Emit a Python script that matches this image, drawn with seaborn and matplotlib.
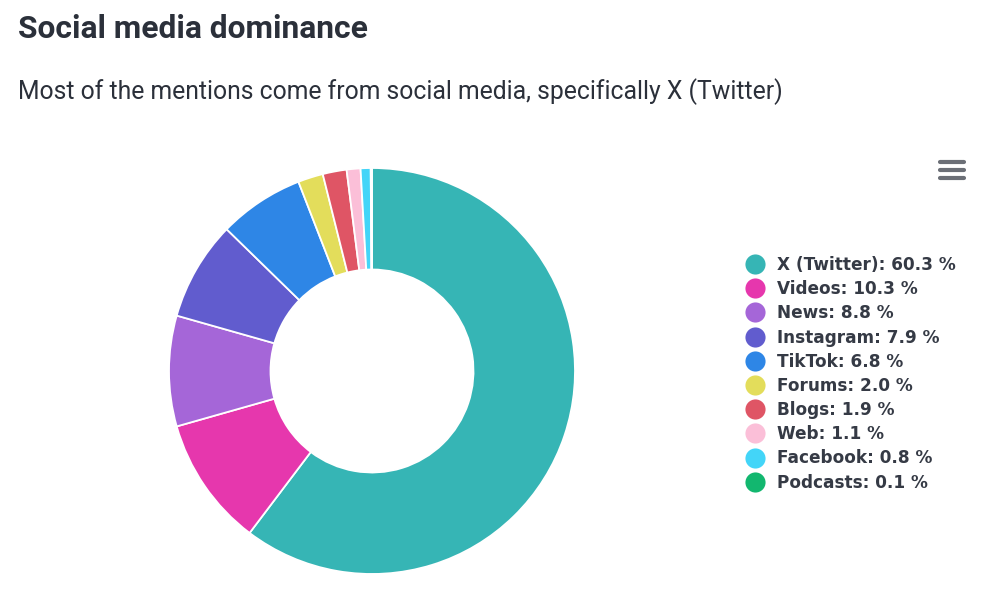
# -*- coding: utf-8 -*-
import seaborn as sns
import matplotlib.pyplot as plt
from matplotlib.lines import Line2D

categories = ['X (Twitter)', 'Videos', 'News', 'Instagram', 'TikTok',
              'Forums', 'Blogs', 'Web', 'Facebook', 'Podcasts']
values = [60.3, 10.3, 8.8, 7.9, 6.8, 2.0, 1.9, 1.1, 0.8, 0.1]
colors = ['#36b5b5', '#e637ad', '#a566d8', '#615cce', '#2e86e6',
          '#e3dd5b', '#df5565', '#fbbfd8', '#43d5f8', '#12b76f']

sns.set_theme(style='white')
plt.rcParams['font.family'] = ['Roboto', 'DejaVu Sans']
palette = sns.color_palette(colors)
text_color = '#2b303a'

W, H = 1000, 604
fig = plt.figure(figsize=(W / 100, H / 100), dpi=100)
fig.patch.set_facecolor('white')

# donut, centre about (372, 371), radius 203 px
ax = fig.add_axes([(372 - 203) / W, 1 - (371 + 203) / H, 406 / W, 406 / H])
wedges, _ = ax.pie(values, colors=palette, startangle=90, counterclock=False,
                   radius=1, wedgeprops=dict(width=0.5, edgecolor='white', linewidth=1.3))
ax.set_xlim(-1.0, 1.0)
ax.set_ylim(-1.0, 1.0)

fig.text(18 / W, 1 - 29 / H, 'Social media dominance', fontsize=22.85, fontweight='bold',
         color=text_color, va='center', ha='left')
fig.text(18 / W, 1 - 92 / H, 'Most of the mentions come from social media, specifically X (Twitter)',
         fontsize=17.8, color=text_color, va='center', ha='left')

# legend
handles = [Line2D([], [], linestyle='none', marker='o', markersize=14.5, markerfacecolor=c,
                  markeredgewidth=0) for c in palette]
labels = [f'{c}: {v:.1f} %' for c, v in zip(categories, values)]
leg = fig.legend(handles, labels, loc='upper left', bbox_to_anchor=(738 / W, 1 - 256 / H),
                 frameon=False, labelspacing=0.365, handletextpad=0.33, borderpad=0, borderaxespad=0,
                 prop=dict(family='DejaVu Sans', weight='bold', size=12.2))
for t in leg.get_texts():
    t.set_color('#353a45')

# menu icon
for y in [162, 170, 178]:
    fig.add_artist(Line2D([940 / W, 964 / W], [1 - y / H, 1 - y / H], color='#6b6f76',
                          linewidth=3, solid_capstyle='round'))

fig.savefig('out.png', dpi=100)
